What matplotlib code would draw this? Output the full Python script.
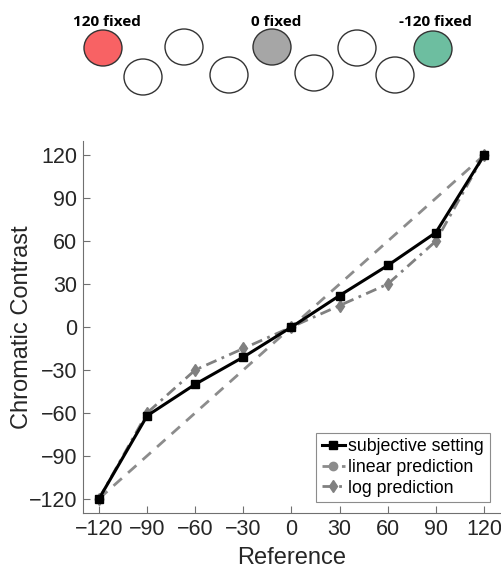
import matplotlib
matplotlib.use("Agg")
import matplotlib.pyplot as plt
from matplotlib.patches import Ellipse

plt.rcParams['font.family'] = ['Liberation Sans', 'DejaVu Sans']

# Data
reference = [-120, -90, -60, -30, 0, 30, 60, 90, 120]
subjective = [-120, -62, -40, -21, 0, 22, 43, 66, 120]
linear_x = [-120, 0, 120]
linear_y = [-120, 0, 120]
log_pred = [-120, -60, -30, -15, 0, 15, 30, 60, 120]
ticks = [-120, -90, -60, -30, 0, 30, 60, 90, 120]

W, H = 502, 572
fig = plt.figure(figsize=(W / 100, H / 100), dpi=100)

# Schematic of the stimulus ring (pixel coordinates)
ax_s = fig.add_axes([0, 0, 1, 1])
ax_s.set_xlim(0, W)
ax_s.set_ylim(H, 0)
ax_s.axis('off')
circles = [
    (103, 48, '#f86264'),
    (143, 77, 'white'),
    (184, 47, 'white'),
    (229, 75, 'white'),
    (272, 47, '#a6a6a6'),
    (314, 73, 'white'),
    (357, 48, 'white'),
    (395, 75, 'white'),
    (433, 49, '#6dbea0'),
]
for cx, cy, col in circles:
    ax_s.add_patch(Ellipse((cx, cy), 38, 36, facecolor=col,
                           edgecolor='#333333', linewidth=1.0))
for tx, text in [(107, '120 fixed'), (276, '0 fixed'), (435, '-120 fixed')]:
    ax_s.text(tx, 22, text, ha='center', va='center', fontsize=11,
              fontweight='bold', family=['Open Sans', 'DejaVu Sans'])

# Main plot
ax = fig.add_axes([83 / W, 1 - 513 / H, (500 - 83) / W, (513 - 141) / H])
ax.plot(linear_x, linear_y, linestyle=(0, (4, 3)), color='#8c8c8c',
        linewidth=2, marker='o', markersize=6, label='linear prediction', zorder=2)
ax.plot(reference, log_pred, linestyle=(0, (4, 2, 1, 2)), color='#808080',
        linewidth=2, marker='d', markersize=6, label='log prediction', zorder=2)
ax.plot(reference, subjective, linestyle='-', color='black', linewidth=2.2,
        marker='s', markersize=6, label='subjective setting', zorder=3)

ax.set_xlim(-130, 130)
ax.set_ylim(-130, 130)
ax.set_xticks(ticks)
ax.set_yticks(ticks)
ax.tick_params(direction='in', length=5, width=0.8, colors='#707070',
               labelcolor='#262626', labelsize=15.5, pad=4)
for side in ['top', 'right']:
    ax.spines[side].set_visible(False)
for side in ['left', 'bottom']:
    ax.spines[side].set_color('#707070')
    ax.spines[side].set_linewidth(0.8)

ax.set_xlabel('Reference', fontsize=17, color='#262626', labelpad=5)
ax.set_ylabel('Chromatic Contrast', fontsize=17, color='#262626')
ax.yaxis.set_label_coords(-0.12, 0.5)

handles, labels = ax.get_legend_handles_labels()
order = [2, 0, 1]
leg = ax.legend([handles[i] for i in order], [labels[i] for i in order],
                loc='lower right', bbox_to_anchor=(0.975, 0.03),
                fontsize=12.8, frameon=True, fancybox=False, handlelength=1.3,
                handletextpad=0.2, borderpad=0.3, labelspacing=0.2,
                borderaxespad=0)
leg.get_frame().set_edgecolor('#707070')
leg.get_frame().set_linewidth(0.8)

fig.savefig('out.png', dpi=100)
